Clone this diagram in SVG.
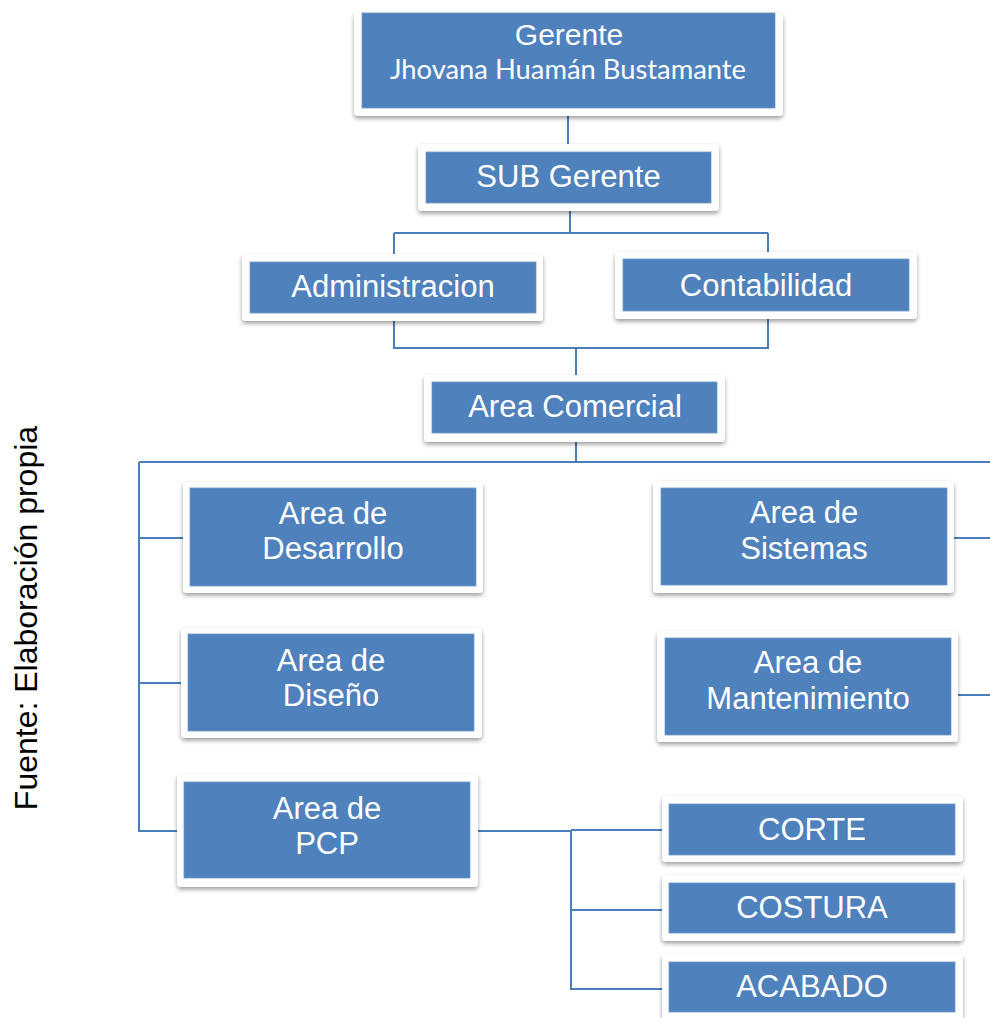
<svg xmlns="http://www.w3.org/2000/svg" width="990" height="1018" viewBox="0 0 990 1018">
  <defs>
    <filter id="shadow" x="-10%" y="-20%" width="120%" height="150%">
      <feDropShadow dx="0" dy="2.5" stdDeviation="2" flood-color="#000" flood-opacity="0.38"/>
    </filter>
  </defs>
  <style>
    .frame { fill: #ffffff; filter: url(#shadow); }
    .box { fill: #4F81BD; stroke: #6f98cc; stroke-width: 0.8; }
    .lbl { font-family: "Liberation Sans", Arial, sans-serif; font-size: 31px; fill: #ffffff; text-anchor: middle; }
    .name { font-family: Lato, "Open Sans", sans-serif; font-size: 26px; fill: #ffffff; text-anchor: middle; }
    .link { fill: none; stroke: #4A7EBB; stroke-width: 2; }
    .src { font-family: "Liberation Sans", Arial, sans-serif; font-size: 32px; fill: #000000; text-anchor: middle; }
  </style>

  <rect width="990" height="1018" fill="#ffffff"/>

  <!-- connectors -->
  <g id="connectors">
    <path class="link" d="M568 112 V150"/>
    <path class="link" d="M570 205 V233 M394 233 H768 M394 233 V260 M768 233 V258"/>
    <path class="link" d="M394 316 V348 H768 V314 M576 348 V380"/>
    <path class="link" d="M576 438 V462 M139 462 H990"/>
    <path class="link" d="M139 462 V831 H182 M139 538 H187 M139 683 H185"/>
    <path class="link" d="M953 538 H990 M958 695 H990"/>
    <path class="link" d="M474 831 H571 M571 830 H666 M571 830 V989 H666 M571 910 H666"/>
  </g>

  <!-- nodes -->
  <g id="gerente">
    <rect class="frame" x="354" y="13" width="429" height="103" rx="4"/>
    <rect class="box" x="362" y="13" width="413" height="95"/>
    <text class="lbl" x="569" y="45" style="font-size:30px">Gerente</text>
    <text class="name" x="568" y="79" textLength="356" lengthAdjust="spacingAndGlyphs">Jhovana Huamán Bustamante</text>
  </g>

  <g id="sub-gerente">
    <rect class="frame" x="418" y="144" width="301" height="67" rx="4"/>
    <rect class="box" x="426" y="152" width="285" height="51"/>
    <text class="lbl" x="568.5" y="187">SUB Gerente</text>
  </g>

  <g id="administracion">
    <rect class="frame" x="242" y="254" width="301" height="67" rx="4"/>
    <rect class="box" x="250" y="262" width="286" height="51"/>
    <text class="lbl" x="393" y="297">Administracion</text>
  </g>

  <g id="contabilidad">
    <rect class="frame" x="615" y="252" width="302" height="67" rx="4"/>
    <rect class="box" x="623" y="259" width="286" height="52"/>
    <text class="lbl" x="766" y="296">Contabilidad</text>
  </g>

  <g id="area-comercial">
    <rect class="frame" x="424" y="375" width="301" height="67" rx="4"/>
    <rect class="box" x="432" y="382" width="285" height="51"/>
    <text class="lbl" x="575" y="417">Area Comercial</text>
  </g>

  <g id="area-desarrollo">
    <rect class="frame" x="183" y="482" width="300" height="111" rx="4"/>
    <rect class="box" x="190" y="488" width="286" height="98"/>
    <text class="lbl" x="333" y="524">Area de</text>
    <text class="lbl" x="333" y="559">Desarrollo</text>
  </g>

  <g id="area-diseno">
    <rect class="frame" x="181" y="628" width="301" height="110" rx="4"/>
    <rect class="box" x="188" y="634" width="286" height="97"/>
    <text class="lbl" x="331" y="671">Area de</text>
    <text class="lbl" x="331" y="706">Diseño</text>
  </g>

  <g id="area-pcp">
    <rect class="frame" x="177" y="774" width="301" height="113" rx="4"/>
    <rect class="box" x="184" y="782" width="286" height="96"/>
    <text class="lbl" x="327" y="819">Area de</text>
    <text class="lbl" x="327" y="854">PCP</text>
  </g>

  <g id="area-sistemas">
    <rect class="frame" x="653" y="481" width="301" height="112" rx="4"/>
    <rect class="box" x="661" y="488" width="286" height="97"/>
    <text class="lbl" x="804" y="523">Area de</text>
    <text class="lbl" x="804" y="559">Sistemas</text>
  </g>

  <g id="area-mantenimiento">
    <rect class="frame" x="657" y="631" width="301" height="111" rx="4"/>
    <rect class="box" x="665" y="638" width="286" height="97"/>
    <text class="lbl" x="808" y="673">Area de</text>
    <text class="lbl" x="808" y="709">Mantenimiento</text>
  </g>

  <g id="corte">
    <rect class="frame" x="662" y="796" width="301" height="66" rx="4"/>
    <rect class="box" x="669" y="804" width="286" height="51"/>
    <text class="lbl" x="812" y="840">CORTE</text>
  </g>

  <g id="costura">
    <rect class="frame" x="662" y="875" width="301" height="66" rx="4"/>
    <rect class="box" x="669" y="883" width="286" height="50"/>
    <text class="lbl" x="812" y="918">COSTURA</text>
  </g>

  <g id="acabado">
    <rect class="frame" x="662" y="954" width="301" height="70" rx="4"/>
    <rect class="box" x="669" y="962" width="286" height="50"/>
    <text class="lbl" x="812" y="997">ACABADO</text>
  </g>

  <!-- source note -->
  <text class="src" transform="translate(37,618) rotate(-90)">Fuente: Elaboración propia</text>
</svg>
